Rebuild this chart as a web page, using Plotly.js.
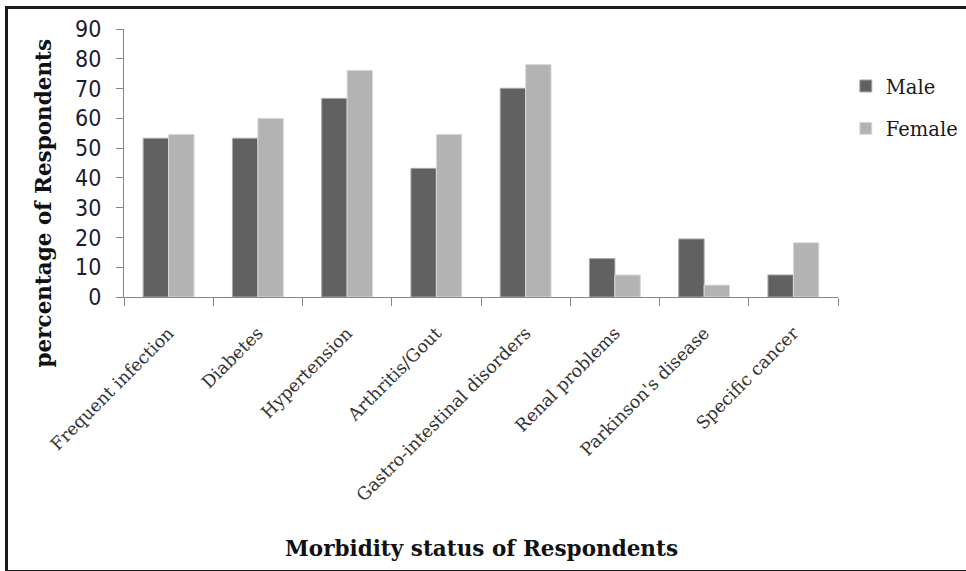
<!DOCTYPE html>
<html>
<head>
<meta charset="utf-8">
<script src="https://cdn.plot.ly/plotly-3.0.1.min.js"></script>
<style>
  html, body { margin: 0; padding: 0; background: #fff; }
  #wrap { position: relative; width: 966px; height: 571px; overflow: hidden; }
  #chart { width: 966px; height: 571px; }
  #frame { position: absolute; left: 5px; top: 6px; width: 970px; height: 561px;
           border: 3px solid #1a1a1a; pointer-events: none; }
</style>
</head>
<body>
<div id="wrap">
  <div id="chart"></div>
  <div id="frame"></div>
</div>
<script>
const categories = [
  "Frequent infection", "Diabetes", "Hypertension", "Arthritis/Gout",
  "Gastro-intestinal disorders", "Renal problems", "Parkinson's disease", "Specific cancer"
];
const maleValues   = [53.3, 53.3, 66.7, 43.2, 70.1, 12.9, 19.5, 7.4];
const femaleValues = [54.6, 60.0, 76.1, 54.6, 78.1, 7.4, 4.0, 18.2];
const yTicks = [0, 10, 20, 30, 40, 50, 60, 70, 80, 90];
const xTitle = "Morbidity status of Respondents";
const yTitle = "percentage of Respondents";

const serif = "DejaVu Serif, Liberation Serif, serif";
const numFont = "DejaVu Sans Condensed, Liberation Sans Narrow, DejaVu Sans, sans-serif";

const traces = [
  {
    type: "bar", name: "Male", x: categories, y: maleValues,
    legendgroup: "m",
    marker: { color: "#616161", line: { color: "#a8a8a8", width: 1 } }
  },
  {
    type: "bar", name: "Female", x: categories, y: femaleValues,
    legendgroup: "f",
    marker: { color: "#b3b3b3", line: { color: "#dadada", width: 1 } }
  }
];

const layout = {
  width: 966, height: 571,
  paper_bgcolor: "#ffffff", plot_bgcolor: "#ffffff",
  margin: { l: 124, r: 128, t: 29, b: 274 },
  barmode: "group",
  bargap: 0.43,
  bargroupgap: 0,
  showlegend: true,
  legend: {
    xref: "container", yref: "container",
    x: 0.8756, xanchor: "left", y: 0.883, yanchor: "top",
    font: { family: serif, size: 19.5, color: "#1a1a1a" },
    tracegroupgap: 14,
    itemwidth: 30,
    bgcolor: "rgba(0,0,0,0)"
  },
  xaxis: {
    type: "category",
    tickangle: -45,
    tickson: "boundaries",
    ticks: "outside", ticklen: 8, tickcolor: "#868686", tickwidth: 1,
    showline: true, linecolor: "#868686", linewidth: 1,
    showgrid: false, zeroline: false,
    tickfont: { family: serif, size: 17.5, color: "#333333" },
    ticklabelstandoff: 18,
    automargin: false
  },
  yaxis: {
    range: [0, 90],
    tickvals: yTicks,
    ticktext: yTicks.map(String),
    ticks: "outside", ticklen: 7, tickcolor: "#868686", tickwidth: 1,
    showline: true, linecolor: "#868686", linewidth: 1,
    showgrid: false, zeroline: false,
    tickfont: { family: numFont, size: 23, color: "#1c1c30" },
    ticklabelstandoff: 10,
    automargin: false
  },
  annotations: [
    {
      xref: "paper", yref: "paper", x: 0.501, y: -0.94,
      xanchor: "center", yanchor: "middle", showarrow: false,
      text: "<b>" + xTitle + "</b>",
      font: { family: serif, size: 21.5, color: "#111111" }
    },
    {
      xref: "paper", yref: "paper", x: -0.1134, y: 0.349,
      xanchor: "center", yanchor: "middle", showarrow: false, textangle: -90,
      text: "<b>" + yTitle + "</b>",
      font: { family: serif, size: 21.5, color: "#111111" }
    }
  ]
};

Plotly.newPlot("chart", traces, layout, { displayModeBar: false, staticPlot: true });
</script>
</body>
</html>
